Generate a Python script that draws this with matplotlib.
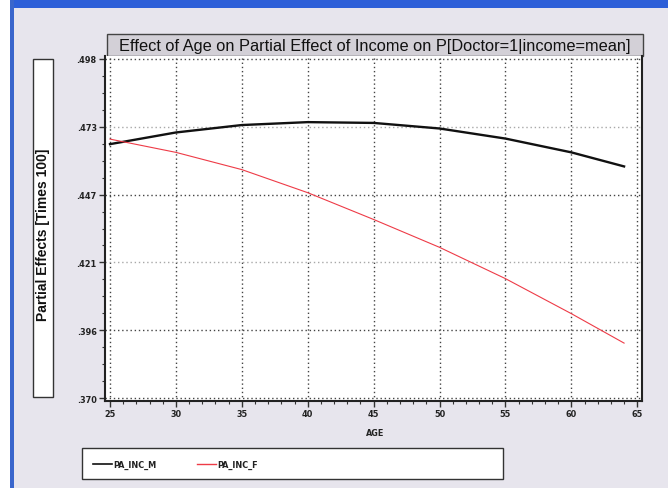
import matplotlib
matplotlib.use('Agg')
import matplotlib.pyplot as plt
import matplotlib.patches as patches
from matplotlib.ticker import MultipleLocator, FixedLocator
import numpy as np

# --- data ---
age = [25, 30, 35, 40, 45, 50, 55, 60, 64]
pa_inc_m = [0.4660, 0.4704, 0.4732, 0.4743, 0.4740, 0.4719, 0.4681, 0.4629, 0.4576]
pa_inc_f = [0.4679, 0.4629, 0.4564, 0.4477, 0.4376, 0.4271, 0.4153, 0.4021, 0.3910]
series_names = ['PA_INC_M', 'PA_INC_F']
y_tick_labels = ['.370', '.396', '.421', '.447', '.473', '.498']
x_ticks = [25, 30, 35, 40, 45, 50, 55, 60, 65]

W, H = 668, 489
bg = '#e7e5ed'
small = dict(family='DejaVu Sans', fontstretch='condensed', fontweight='bold',
             fontsize=6.5, color='#222222')

fig = plt.figure(figsize=(W / 100, H / 100), dpi=100)
fig.patch.set_facecolor('white')


def box(x0, y0, x1, y1, z=0.5, **kw):
    # pixel coords, origin at top-left
    r = patches.Rectangle((x0 / W, 1 - y1 / H), (x1 - x0) / W, (y1 - y0) / H,
                          transform=fig.transFigure, zorder=z, **kw)
    fig.patches.append(r)
    return r


# window frame
box(12, 0, W, H, z=0.1, facecolor=bg, edgecolor='none')
box(12, 0, W, 9, z=0.2, facecolor='#2d5fd8', edgecolor='none')
box(10, 0, 14, H, z=0.2, facecolor='#3a66cc', edgecolor='none')

# title box
box(107, 35, 643, 57, facecolor='#d3d0d7', edgecolor='#444444', lw=1.0)
fig.text(375 / W, 1 - 46 / H, 'Effect of Age on Partial Effect of Income on P[Doctor=1|income=mean]',
         ha='center', va='center', fontsize=11.8, family='Liberation Sans', color='#111111')

# y label box
box(33, 60, 53, 398, facecolor='white', edgecolor='#333333', lw=1.0)
fig.text(43.5 / W, 1 - 235 / H, 'Partial Effects [Times 100]', rotation=90, ha='center', va='center',
         fontsize=10, fontweight='bold', family='Liberation Sans', color='#111111')

# legend box
box(82, 449, 503, 480, facecolor='white', edgecolor='#333333', lw=1.0)

ax = fig.add_axes([105 / W, 1 - 402 / H, (642 - 105) / W, (402 - 57) / H])
ax.set_zorder(2)
ax.set_facecolor('white')

y_lo, y_hi = 0.3703, 0.4981
y_ticks = np.linspace(y_lo, y_hi, len(y_tick_labels))
step = y_ticks[1] - y_ticks[0]

ax.plot(age, pa_inc_m, color='#111111', lw=1.7, label=series_names[0], zorder=3)
ax.plot(age, pa_inc_f, color='#ee3b47', lw=0.8, label=series_names[1], zorder=3)

ax.set_xlim(24.62, 65.36)
ax.set_ylim(y_lo - 3 / 68 * step, y_hi + 3 / 68 * step)
ax.xaxis.set_major_locator(FixedLocator(x_ticks))
ax.xaxis.set_minor_locator(MultipleLocator(1))
ax.yaxis.set_major_locator(FixedLocator(y_ticks))
ax.yaxis.set_minor_locator(FixedLocator(np.arange(y_lo, y_hi + 1e-9, step / 4)))
ax.set_yticklabels(y_tick_labels)

for lab in ax.get_xticklabels() + ax.get_yticklabels():
    lab.set(**small)

ax.tick_params(which='major', length=4, width=1.0, color='#333333', pad=2)
ax.tick_params(which='minor', length=2, width=0.8, color='#333333')
ax.grid(True, which='major', linestyle=(0, (1, 2)), color='#444444', lw=1.0, zorder=1)
# every other horizontal grid line is lighter in the original
for i, gl in enumerate(ax.get_ygridlines()):
    if i in (2, 4):
        gl.set_color('#a8a8a8')

for side in ['left', 'bottom', 'right']:
    ax.spines[side].set_color('#222222')
    ax.spines[side].set_linewidth(1.5)
ax.spines['top'].set_visible(False)

fig.text(375 / W, 1 - 434 / H, 'AGE', ha='center', va='center', zorder=3, **small)

# legend entries
leg_y = 1 - 465 / H
fig.add_artist(plt.Line2D([93 / W, 112 / W], [leg_y, leg_y], color='#111111', lw=1.2, zorder=3))
fig.text(113 / W, leg_y, series_names[0], ha='left', va='center', zorder=3, **small)
fig.add_artist(plt.Line2D([197 / W, 216 / W], [leg_y, leg_y], color='#ee3b47', lw=1.0, zorder=3))
fig.text(217 / W, leg_y, series_names[1], ha='left', va='center', zorder=3, **small)

fig.savefig('out.png', dpi=100, facecolor=fig.get_facecolor())
